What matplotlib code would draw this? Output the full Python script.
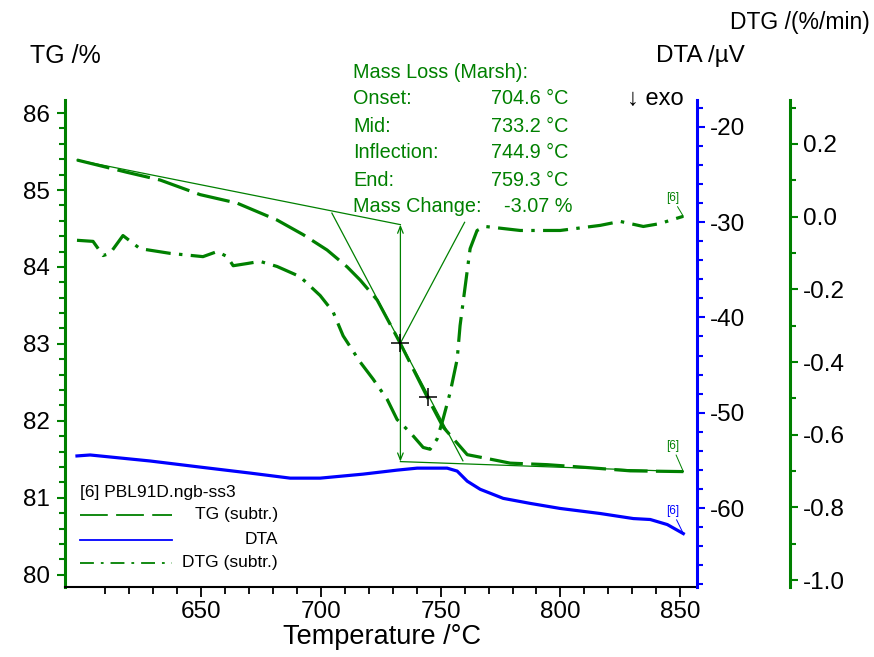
import matplotlib
matplotlib.use("Agg")
import matplotlib.pyplot as plt
from matplotlib.ticker import MultipleLocator, FixedLocator, FormatStrFormatter

plt.rcParams['font.family'] = ['Liberation Sans', 'DejaVu Sans']
plt.rcParams['axes.unicode_minus'] = False
plt.rcParams['lines.scale_dashes'] = False

GREEN = '#008000'
BLUE = '#0000ff'

# ---- measured curves (temperature in °C) ----
tg_temp = [598.2, 619.1, 632.9, 649.6, 665.0, 681.7, 692.6, 702.6, 711.0, 716.4,
           723.5, 730.2, 733.1, 744.4, 751.0, 756.9, 761.1, 769.4, 779.0, 794.5,
           812.4, 829.1, 851.3]
tg_mass = [85.39, 85.23, 85.13, 84.94, 84.83, 84.61, 84.42, 84.22, 84.00, 83.83,
           83.57, 83.18, 83.01, 82.31, 81.92, 81.71, 81.56, 81.51, 81.45, 81.43,
           81.39, 81.35, 81.34]

dtg_temp = [598.2, 604.9, 609.1, 612.0, 617.4, 624.5, 637.1, 650.8, 656.7, 660.9,
            663.4, 669.2, 674.6, 681.7, 691.3, 699.7, 705.1, 709.3, 716.4, 721.8,
            727.7, 731.8, 737.3, 742.7, 745.6, 748.5, 751.0, 754.0, 756.9, 758.1,
            759.4, 762.3, 765.2, 768.6, 783.2, 799.9, 816.6, 824.9, 834.6, 841.6,
            845.8, 851.3]
dtg_rate = [-0.065, -0.068, -0.107, -0.101, -0.052, -0.088, -0.101, -0.110, -0.096, -0.110,
            -0.135, -0.129, -0.123, -0.137, -0.165, -0.217, -0.262, -0.328, -0.400, -0.447,
            -0.503, -0.558, -0.594, -0.635, -0.640, -0.612, -0.557, -0.483, -0.392, -0.300,
            -0.234, -0.088, -0.038, -0.027, -0.038, -0.038, -0.024, -0.013, -0.027, -0.019,
            -0.010, 0.001]

dta_temp = [598.2, 603.7, 628.7, 649.6, 670.5, 687.2, 699.7, 717.6, 731.8, 740.2,
            752.7, 756.9, 761.1, 766.5, 776.1, 787.4, 799.9, 816.6, 830.4, 837.5,
            844.6, 851.3]
dta_signal = [-54.53, -54.43, -55.06, -55.70, -56.33, -56.86, -56.86, -56.44, -56.02, -55.81,
              -55.81, -56.12, -57.18, -58.03, -58.98, -59.51, -60.04, -60.57, -61.10, -61.20,
              -61.73, -62.68]

temp_ticks = [650, 700, 750, 800, 850]

# ---- Marsh evaluation results ----
onset_t = 704.6
mid_t = 733.2
inflection_t = 744.9
end_t = 759.3
mass_change = -3.07
mid_mass = 83.01
inflection_mass = 82.31
upper_base = [(598.2, 85.39), (mid_t, 84.55)]
lower_base = [(mid_t, 81.47), (851.3, 81.34)]
onset_point = (onset_t, 84.70)
end_point = (end_t, 81.48)
label_anchor = (760.0, 84.58)

fig = plt.figure(figsize=(8.74, 6.57), dpi=100)
W, H = 874, 657


def fx(x):
    return x / W


def fy(y):
    return 1 - y / H


ax = fig.add_axes([fx(65), fy(587), fx(697) - fx(65), fy(100) - fy(587)])
ax_dta = ax.twinx()
ax_dtg = ax.twinx()

ax.set_xlim(593.2, 857.0)
ax.set_ylim(79.84, 86.17)
ax_dta.set_ylim(-68.28, -17.19)
ax_dtg.set_ylim(-1.019, 0.321)

# curves
ax.plot(tg_temp, tg_mass, color=GREEN, lw=2.3, dashes=(24, 6), zorder=3)
ax_dtg.plot(dtg_temp, dtg_rate, color=GREEN, lw=2.3, dashes=(18, 6, 2.5, 6), zorder=3)
ax_dta.plot(dta_temp, dta_signal, color=BLUE, lw=2.3, zorder=3)

# Marsh construction lines
ax.plot([p[0] for p in upper_base], [p[1] for p in upper_base], color=GREEN, lw=0.9)
ax.plot([p[0] for p in lower_base], [p[1] for p in lower_base], color=GREEN, lw=0.9)
ax.plot([onset_point[0], end_point[0]], [onset_point[1], end_point[1]], color=GREEN, lw=0.9)
ax.plot([mid_t, label_anchor[0]], [mid_mass, label_anchor[1]], color=GREEN, lw=0.9)
ax.annotate('', xy=(mid_t, upper_base[1][1]), xytext=(mid_t, lower_base[0][1]),
            arrowprops=dict(arrowstyle='<->,head_length=0.5,head_width=0.2',
                            color=GREEN, lw=0.9, shrinkA=0, shrinkB=0))
ax.plot([mid_t, inflection_t], [mid_mass, inflection_mass], ls='none', marker='+',
        ms=13, mew=1.1, color='black', zorder=5)

# segment labels at curve ends
ax.annotate('[6]', xy=(tg_temp[-1], tg_mass[-1]), xytext=(-8, 14), textcoords='offset points',
            color=GREEN, fontsize=8.5, ha='center', va='bottom',
            arrowprops=dict(arrowstyle='-', color=GREEN, lw=0.7, shrinkA=0, shrinkB=0))
ax_dtg.annotate('[6]', xy=(dtg_temp[-1], dtg_rate[-1]), xytext=(-8, 9), textcoords='offset points',
                color=GREEN, fontsize=8.5, ha='center', va='bottom',
                arrowprops=dict(arrowstyle='-', color=GREEN, lw=0.7, shrinkA=0, shrinkB=0))
ax_dta.annotate('[6]', xy=(dta_temp[-1], dta_signal[-1]), xytext=(-8, 12), textcoords='offset points',
                color=BLUE, fontsize=8.5, ha='center', va='bottom',
                arrowprops=dict(arrowstyle='-', color=BLUE, lw=0.7, shrinkA=0, shrinkB=0))

# spines and ticks
for a in (ax, ax_dta, ax_dtg):
    a.spines['top'].set_visible(False)
ax.spines['left'].set_color(GREEN)
ax.spines['left'].set_linewidth(2.2)
ax.spines['bottom'].set_color('black')
ax.spines['bottom'].set_linewidth(1.5)
ax.spines['right'].set_visible(False)
for s in ('left', 'bottom', 'top'):
    ax_dta.spines[s].set_visible(False)
    ax_dtg.spines[s].set_visible(False)
ax_dta.spines['right'].set_color(BLUE)
ax_dta.spines['right'].set_linewidth(2.2)
ax_dtg.spines['right'].set_color(GREEN)
ax_dtg.spines['right'].set_linewidth(2.2)
ax_dtg.spines['right'].set_position(('outward', 67))

ax.xaxis.set_major_locator(FixedLocator(temp_ticks))
ax.xaxis.set_minor_locator(FixedLocator(list(range(610, 851, 10))))
ax.yaxis.set_major_locator(MultipleLocator(1))
ax.yaxis.set_minor_locator(MultipleLocator(0.2))
ax_dta.yaxis.set_major_locator(MultipleLocator(10))
ax_dta.yaxis.set_minor_locator(MultipleLocator(2))
ax_dtg.yaxis.set_major_locator(MultipleLocator(0.2))
ax_dtg.yaxis.set_minor_locator(MultipleLocator(0.1))
ax_dtg.yaxis.set_major_formatter(FormatStrFormatter('%.1f'))

tick_fs = 17.5
ax.tick_params(axis='x', which='major', direction='out', length=7, width=1.3, pad=3, labelsize=tick_fs)
ax.tick_params(axis='x', which='minor', direction='out', length=5, width=1.3)
ax.tick_params(axis='y', which='both', direction='out', color=GREEN, width=1.5, labelsize=tick_fs, pad=5)
ax.tick_params(axis='y', which='major', length=6)
ax.tick_params(axis='y', which='minor', length=4)
ax_dta.tick_params(axis='y', which='both', direction='out', color=BLUE, width=1.5, labelsize=tick_fs, pad=3)
ax_dta.tick_params(axis='y', which='major', length=6)
ax_dta.tick_params(axis='y', which='minor', length=4)
ax_dtg.tick_params(axis='y', which='both', direction='out', color=GREEN, width=1.5, labelsize=tick_fs, pad=3)
ax_dtg.tick_params(axis='y', which='major', length=6)
ax_dtg.tick_params(axis='y', which='minor', length=4)

# axis titles
fig.text(fx(65), fy(56), 'TG /%', fontsize=18, ha='center', va='center')
fig.text(fx(745), fy(56), 'DTA /µV', fontsize=17.5, ha='right', va='center')
fig.text(fx(870), fy(22), 'DTG /(%/min)', fontsize=16.5, ha='right', va='center')
fig.text(fx(382), fy(637), 'Temperature /°C', fontsize=19.5, ha='center', va='center')
fig.text(fx(684), fy(99), '↓ exo', fontsize=17, ha='right', va='center')

# evaluation text block
rows = [('Mass Loss (Marsh):', ''),
        ('Onset:', f'{onset_t:.1f} °C'),
        ('Mid:', f'{mid_t:.1f} °C'),
        ('Inflection:', f'{inflection_t:.1f} °C'),
        ('End:', f'{end_t:.1f} °C'),
        ('Mass Change:', f'{mass_change:.2f} %')]
row_y = [72, 99, 126, 153, 180, 207]
for (name, val), yy in zip(rows, row_y):
    fig.text(fx(353), fy(yy), name, fontsize=14.3, color=GREEN, ha='left', va='center')
    if val:
        xr = 573 if val.endswith('%') else 568
        fig.text(fx(xr), fy(yy), val, fontsize=14.3, color=GREEN, ha='right', va='center')

# legend block
fig.text(fx(80), fy(493), '[6] PBL91D.ngb-ss3', fontsize=12.5, ha='left', va='center')
leg = [('TG (subtr.)', GREEN, dict(dashes=(20, 6)), 515),
       ('DTA', BLUE, dict(), 540),
       ('DTG (subtr.)', GREEN, dict(dashes=(10, 5, 2, 5)), 563)]
for name, col, style, yy in leg:
    ln = plt.Line2D([fx(80), fx(172)], [fy(yy), fy(yy)], color=col, lw=1.3,
                    transform=fig.transFigure, **style)
    fig.add_artist(ln)
    fig.text(fx(278), fy(yy), name, fontsize=12.5, ha='right', va='center')

fig.savefig('out.png', dpi=100)
